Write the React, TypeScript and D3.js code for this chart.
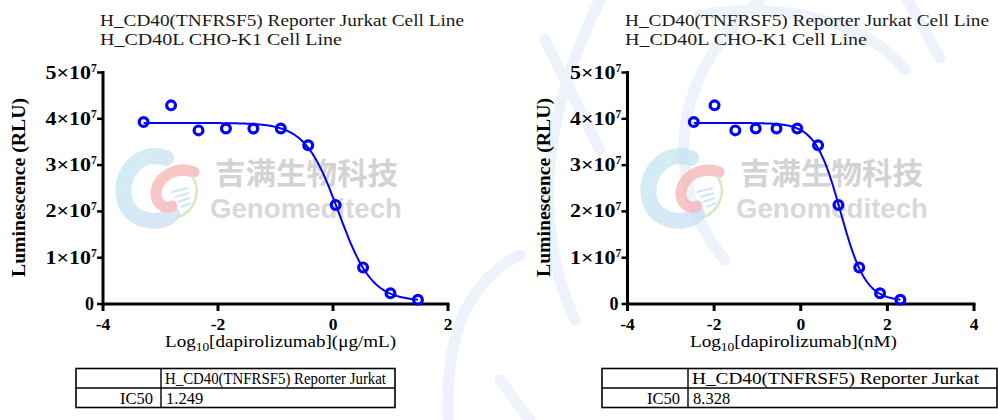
import React from "react";
import * as d3 from "d3";

// ---------- data ----------
const titleLine1 = "H_CD40(TNFRSF5) Reporter Jurkat Cell Line";
const titleLine2 = "H_CD40L CHO-K1 Cell Line";
const yAxisTitle = "Luminescence (RLU)";
const drugName = "dapirolizumab";
const unitLeft = "(μg/mL)";
const unitRight = "(nM)";
const tableHeader = "H_CD40(TNFRSF5) Reporter Jurkat";
const tableRowLabel = "IC50";

const logConcUgPerMl = [-3.294, -2.816, -2.339, -1.862, -1.385, -0.908, -0.431, 0.046, 0.523, 1.0, 1.477];
const logConcNM = [-2.47, -1.99, -1.51, -1.04, -0.56, -0.08, 0.4, 0.87, 1.35, 1.83, 2.3];
const luminescence = [3.93e7, 4.29e7, 3.75e7, 3.79e7, 3.79e7, 3.79e7, 3.43e7, 2.14e7, 0.79e7, 0.23e7, 0.09e7];

const yTicks = [0, 1e7, 2e7, 3e7, 4e7, 5e7];
const xTicksLeft = [-4, -2, 0, 2];
const xTicksRight = [-4, -2, 0, 2, 4];
const ic50Left = 1.249;
const ic50Right = 8.328;
const fitTop = 3.91e7;
const fitBottom = 0.06e7;
const fitHill = 1.5;

const SERIF = "'Liberation Serif', 'Times New Roman', serif";
const SANS = "'Liberation Sans', Arial, sans-serif";
const BLUE = "#0000ff";

type PanelProps = {
  x0: number;
  x1: number;
  xDomain: [number, number];
  xTicks: number[];
  xs: number[];
  ic50: number;
  unit: string;
  titleX: number;
  xTitleX: number;
  xTitleW: number;
  yTitleX: number;
  table: { left: number; right: number; div: number; headerW: number; font: number };
  mark: { logoCx: number; cnX: number; enX: number };
};

function Logo({ cx, cy, id }: { cx: number; cy: number; id: string }) {
  return (
    <g transform={`translate(${cx},${cy})`} opacity={0.7}>
      <defs>
        <linearGradient id={`lg-${id}`} x1="0" y1="0" x2="1" y2="1">
          <stop offset="0" stopColor="#bfe6ee" />
          <stop offset="1" stopColor="#c9dcf2" />
        </linearGradient>
        <linearGradient id={`pg-${id}`} x1="0" y1="0" x2="1" y2="1">
          <stop offset="0" stopColor="#f7b3a6" />
          <stop offset="1" stopColor="#f2a6b8" />
        </linearGradient>
      </defs>
      <path
        d="M 8 -30 C -22 -40, -42 -8, -32 16 C -24 34, 2 38, 14 26"
        fill="none"
        stroke={`url(#lg-${id})`}
        strokeWidth={16}
        strokeLinecap="round"
      />
      <path
        d="M 36 -16 C 18 -22, 0 -12, -2 4 C -3 16, 8 22, 14 18"
        fill="none"
        stroke={`url(#pg-${id})`}
        strokeWidth={11}
        strokeLinecap="round"
      />
      <path d="M 34 -12 C 44 2, 38 24, 18 30" fill="none" stroke="#bfe2ae" strokeWidth={2.5} />
      {[0, 1, 2, 3].map((i) => (
        <line key={i} x1={14 + i * 3} y1={4 + i * 5} x2={30 + i * 1} y2={0 + i * 5} stroke="#b8dcef" strokeWidth={2} />
      ))}
    </g>
  );
}

function Panel(p: PanelProps) {
  const y = d3.scaleLinear().domain([0, 5e7]).range([304, 72.5]);
  const x = d3.scaleLinear().domain(p.xDomain).range([p.x0, p.x1]);
  const logIC50 = Math.log10(p.ic50);
  const model = (lx: number) =>
    fitBottom + (fitTop - fitBottom) / (1 + Math.pow(10, (lx - logIC50) * fitHill));
  const xmin = d3.min(p.xs) as number;
  const xmax = d3.max(p.xs) as number;
  const samples = d3.range(0, 201).map((i) => xmin + ((xmax - xmin) * i) / 200);
  const line = d3
    .line<number>()
    .x((d) => x(d))
    .y((d) => y(model(d)));

  const axisX = p.x0;
  const axisY = y(0);
  const t = p.table;
  const rowTop = 368.5;
  const rowMid = 388;
  const rowBot = 407.5;

  return (
    <g>
      {/* watermark */}
      <Logo cx={p.mark.logoCx} cy={188} id={String(p.x0)} />
      <text x={p.mark.cnX} y={184} fontFamily="'Noto Sans CJK SC', sans-serif" fontWeight={700} fontSize={30} fill="#d3d3d3" textLength={183} lengthAdjust="spacingAndGlyphs">
        吉满生物科技
      </text>
      <text x={p.mark.enX} y={218} fontFamily={SANS} fontWeight={700} fontSize={27} fill="#d9d9d9" textLength={192} lengthAdjust="spacingAndGlyphs">
        Genomeditech
      </text>

      {/* title */}
      <text x={p.titleX} y={25.5} fontFamily={SERIF} fontSize={16.5} fill="#1a1a1a" textLength={364} lengthAdjust="spacingAndGlyphs">
        {titleLine1}
      </text>
      <text x={p.titleX} y={44.5} fontFamily={SERIF} fontSize={16.5} fill="#1a1a1a" textLength={242} lengthAdjust="spacingAndGlyphs">
        {titleLine2}
      </text>

      {/* y axis title */}
      <text
        transform={`translate(${p.yTitleX},${187.5}) rotate(-90)`}
        textAnchor="middle"
        fontFamily={SERIF}
        fontWeight={700}
        fontSize={18}
        textLength={179}
        lengthAdjust="spacingAndGlyphs"
      >
        {yAxisTitle}
      </text>

      {/* axes */}
      <line x1={axisX} x2={axisX} y1={y(5e7) - 1.5} y2={axisY + 1.5} stroke="#000" strokeWidth={3} />
      <line x1={axisX} x2={p.x1 + 1.5} y1={axisY} y2={axisY} stroke="#000" strokeWidth={3} />
      {yTicks.map((v) => (
        <g key={`y${v}`}>
          <line x1={axisX - 6} x2={axisX} y1={y(v)} y2={y(v)} stroke="#000" strokeWidth={2.5} />
          {v === 0 ? (
            <text x={axisX - 9} y={y(v) + 6} textAnchor="end" fontFamily={SERIF} fontWeight={700} fontSize={18}>
              0
            </text>
          ) : (
            <g>
              <text
                transform={`translate(${axisX - 12},${y(v) + 6}) scale(1.22,1)`}
                textAnchor="end"
                fontFamily={SERIF}
                fontWeight={700}
                fontSize={18}
              >
                {`${v / 1e7}×10`}
              </text>
              <text x={axisX - 12} y={y(v) - 1} fontFamily={SERIF} fontWeight={700} fontSize={11.5}>
                7
              </text>
            </g>
          )}
        </g>
      ))}
      {p.xTicks.map((v) => (
        <g key={`x${v}`}>
          <line x1={x(v)} x2={x(v)} y1={axisY} y2={axisY + 7} stroke="#000" strokeWidth={3} />
          <text x={x(v)} y={329.5} textAnchor="middle" fontFamily={SERIF} fontWeight={700} fontSize={17.5}>
            {v < 0 ? `-${Math.abs(v)}` : `${v}`}
          </text>
        </g>
      ))}

      {/* x axis title */}
      <text x={p.xTitleX} y={347} fontFamily={SERIF} fontSize={17} textLength={p.xTitleW} lengthAdjust="spacingAndGlyphs">
        Log
        <tspan fontSize={12} dy={4}>10</tspan>
        <tspan dy={-4}>{`[${drugName}]${p.unit}`}</tspan>
      </text>

      {/* fit curve */}
      <path d={line(samples) || ""} fill="none" stroke={BLUE} strokeWidth={2} />
      {/* points */}
      {p.xs.map((lx, i) => (
        <circle key={i} cx={x(lx)} cy={y(luminescence[i])} r={4.4} fill="none" stroke={BLUE} strokeWidth={3.2} />
      ))}

      {/* table */}
      <rect x={t.left} y={rowTop} width={t.right - t.left} height={rowBot - rowTop} fill="#fff" stroke="#000" strokeWidth={1.6} />
      <line x1={t.left} x2={t.right} y1={rowMid} y2={rowMid} stroke="#000" strokeWidth={1.4} />
      <line x1={t.div} x2={t.div} y1={rowTop} y2={rowBot} stroke="#000" strokeWidth={1.4} />
      <text x={t.div + 4} y={384} fontFamily={SERIF} fontSize={t.font} textLength={t.headerW} lengthAdjust="spacingAndGlyphs">
        {tableHeader}
      </text>
      <text x={t.div - 8} y={403.5} textAnchor="end" fontFamily={SERIF} fontSize={t.font}>
        {tableRowLabel}
      </text>
      <text x={t.div + 5} y={403.5} fontFamily={SERIF} fontSize={t.font}>
        {p.ic50.toFixed(3)}
      </text>
    </g>
  );
}

// faint background watermark strokes
const bgStrokes = [
  "M 520 255 C 470 280, 445 330, 448 420",
  "M 545 40 L 600 150",
  "M 600 0 C 545 110, 530 220, 575 320",
  "M 760 0 C 665 80, 665 190, 725 260",
  "M 700 15 C 790 0, 870 25, 905 70",
  "M 908 0 L 940 58",
  "M 500 380 L 530 420",
];

export default function App() {
  return (
    <svg
      width={998}
      height={420}
      viewBox="0 0 998 420"
      style={{ position: "absolute", left: 0, top: 0, background: "#fff" }}
    >
      <rect width={998} height={420} fill="#fff" />
      {bgStrokes.map((d, i) => (
        <path key={i} d={d} fill="none" stroke="#eef2fa" strokeWidth={11} strokeLinecap="round" />
      ))}
      <Panel
        x0={103}
        x1={448}
        xDomain={[-4, 2]}
        xTicks={xTicksLeft}
        xs={logConcUgPerMl}
        ic50={ic50Left}
        unit={unitLeft}
        titleX={100}
        xTitleX={165}
        xTitleW={231}
        yTitleX={25}
        table={{ left: 76, right: 395, div: 161, headerW: 221, font: 16.5 }}
        mark={{ logoCx: 158, cnX: 215, enX: 210 }}
      />
      <Panel
        x0={627.5}
        x1={974}
        xDomain={[-4, 4]}
        xTicks={xTicksRight}
        xs={logConcNM}
        ic50={ic50Right}
        unit={unitRight}
        titleX={625}
        xTitleX={690}
        xTitleW={207}
        yTitleX={550}
        table={{ left: 602, right: 997, div: 688, headerW: 287, font: 16.5 }}
        mark={{ logoCx: 683, cnX: 740, enX: 736 }}
      />
    </svg>
  );
}
